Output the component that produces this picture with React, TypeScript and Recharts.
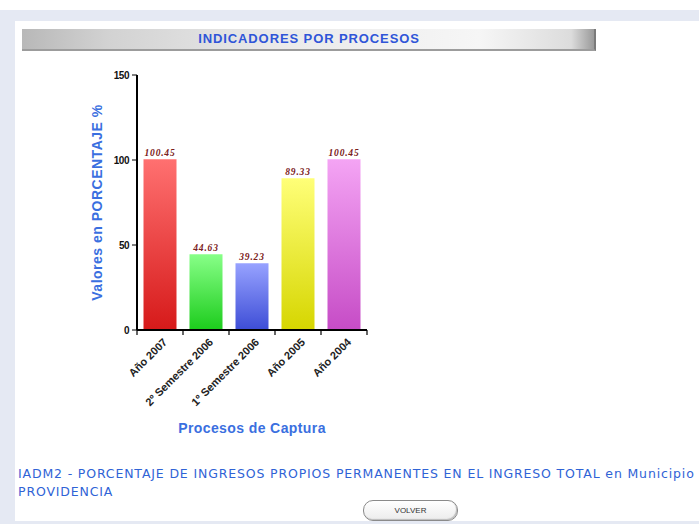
import React from "react";
import { BarChart, Bar, XAxis, YAxis, Cell, LabelList } from "recharts";

const categories = ["Año 2007", "2º Semestre 2006", "1º Semestre 2006", "Año 2005", "Año 2004"];
const values = [100.45, 44.63, 39.23, 89.33, 100.45];
const valueLabels = ["100.45", "44.63", "39.23", "89.33", "100.45"];
const yTicks = [0, 50, 100, 150];
const barTop = ["#ff7070", "#88ff88", "#97a2ff", "#ffff78", "#f4a4f4"];
const barBottom = ["#d61a1a", "#1ccc1c", "#3d4dd6", "#d6d600", "#c64cc6"];

const data = categories.map((c, i) => ({ name: c, value: values[i], label: valueLabels[i] }));

const blue = "#3a6fe0";
const TICK_SIZE = 6;
const TICK_MARGIN = 2;

const XTick = (props: any) => {
  const { x, y, payload, width, visibleTicksCount, index } = props;
  const count = visibleTicksCount || categories.length;
  const half = width / count / 2;
  const axisY = y - TICK_SIZE - TICK_MARGIN;
  const isLast = index === count - 1;
  return (
    <g>
      <line x1={x - half} x2={x - half} y1={axisY} y2={axisY + 5} stroke="#000000" strokeWidth={1.2} />
      {isLast && <line x1={x + half} x2={x + half} y1={axisY} y2={axisY + 5} stroke="#000000" strokeWidth={1.2} />}
      <g transform={`translate(${x + 5},${y + 2})`}>
        <text
          transform="rotate(-45)"
          textAnchor="end"
          dominantBaseline="central"
          fontFamily="Arial, 'Liberation Sans', sans-serif"
          fontWeight="bold"
          fontSize={11}
          fill="#222"
        >
          {payload.value}
        </text>
      </g>
    </g>
  );
};

const YTick = (props: any) => {
  const { x, y, payload } = props;
  return (
    <text
      x={x - 1}
      y={y}
      textAnchor="end"
      dominantBaseline="central"
      fontFamily="Arial, 'Liberation Sans', sans-serif"
      fontWeight="bold"
      fontSize={10}
      letterSpacing={-0.5}
      fill="#111"
    >
      {payload.value}
    </text>
  );
};

export default function App() {
  return (
    <div style={{ position: "absolute", left: 0, top: 0, width: 699, height: 524, background: "#ffffff", overflow: "hidden" }}>
      {/* outer frame */}
      <div style={{ position: "absolute", left: 0, top: 10, width: 699, height: 514, background: "#e5e9f3" }} />
      <div style={{ position: "absolute", left: 15, top: 21, width: 684, height: 500, background: "#ffffff" }} />
      {/* title bar */}
      <div
        style={{
          position: "absolute",
          left: 22,
          top: 29,
          width: 572,
          height: 20,
          background: "linear-gradient(to right, #b8b8b8 0%, #d2d2d2 15%, #eaeaea 45%, #f6f6f6 80%, #dcdcdc 96%, #9a9a9a 100%)",
          borderBottom: "2px solid #9c9c9c",
          borderRight: "2px solid #7a7a7a",
        }}
      />
      <div
        style={{
          position: "absolute",
          left: 22,
          top: 29,
          width: 574,
          height: 20,
          lineHeight: "20px",
          textAlign: "center",
          fontFamily: "Arial, 'Liberation Sans', sans-serif",
          fontWeight: "bold",
          fontSize: 13,
          color: "#2f55d8",
          letterSpacing: 0.9,
        }}
      >
        INDICADORES POR PROCESOS
      </div>

      {/* chart */}
      <div style={{ position: "absolute", left: 0, top: 60 }}>
        <BarChart width={400} height={390} data={data} margin={{ top: 15, right: 33, left: 0, bottom: 0 }} barCategoryGap={6.5}>
          <defs>
            {barTop.map((c, i) => (
              <linearGradient key={i} id={`g${i}`} x1="0" y1="0" x2="0" y2="1">
                <stop offset="0%" stopColor={c} />
                <stop offset="100%" stopColor={barBottom[i]} />
              </linearGradient>
            ))}
          </defs>
          <XAxis
            dataKey="name"
            height={120}
            tick={<XTick />}
            tickLine={false}
            tickSize={TICK_SIZE}
            tickMargin={TICK_MARGIN}
            axisLine={{ stroke: "#000", strokeWidth: 2 }}
            interval={0}
            label={{
              content: (p: any) => (
                <text
                  x={p.viewBox.x + p.viewBox.width / 2}
                  y={p.viewBox.y + 103}
                  textAnchor="middle"
                  fontFamily="Arial, 'Liberation Sans', sans-serif"
                  fontWeight="bold"
                  fontSize={14}
                  letterSpacing={0.4}
                  fill={blue}
                >
                  Procesos de Captura
                </text>
              ),
            }}
          />
          <YAxis
            width={137}
            domain={[0, 150]}
            ticks={yTicks}
            tick={<YTick />}
            tickSize={5}
            tickLine={{ stroke: "#000" }}
            axisLine={{ stroke: "#000", strokeWidth: 2 }}
            label={{
              content: (p: any) => {
                const cx = 97;
                const cy = p.viewBox.y + p.viewBox.height / 2;
                return (
                  <text
                    x={cx}
                    y={cy}
                    transform={`rotate(-90, ${cx}, ${cy})`}
                    textAnchor="middle"
                    dominantBaseline="central"
                    fontFamily="Arial, 'Liberation Sans', sans-serif"
                    fontWeight="bold"
                    fontSize={14}
                    letterSpacing={0.5}
                    fill={blue}
                  >
                    Valores en PORCENTAJE  %
                  </text>
                );
              },
            }}
          />
          <Bar dataKey="value" isAnimationActive={false} stroke="none">
            {data.map((d, i) => (
              <Cell key={i} fill={`url(#g${i})`} />
            ))}
            <LabelList
              dataKey="label"
              position="top"
              offset={3}
              fontFamily="'Liberation Serif', 'DejaVu Serif', serif"
              fontStyle="italic"
              fontWeight="bold"
              fontSize={9.5}
              letterSpacing={0.8}
              fill="#7a2020"
            />
          </Bar>
        </BarChart>
      </div>

      {/* footer text */}
      <div
        style={{
          position: "absolute",
          left: 18,
          top: 465,
          width: 690,
          fontFamily: "Tahoma, 'DejaVu Sans', sans-serif",
          fontSize: 12.5,
          letterSpacing: 0.85,
          lineHeight: "18px",
          color: "#2f63d6",
          whiteSpace: "nowrap",
        }}
      >
        <div>IADM2 - PORCENTAJE DE INGRESOS PROPIOS PERMANENTES EN EL INGRESO TOTAL en Municipio</div>
        <div>PROVIDENCIA</div>
      </div>

      {/* button */}
      <div
        style={{
          position: "absolute",
          left: 363,
          top: 500,
          width: 93,
          height: 19,
          border: "1px solid #8a8a8a",
          borderRadius: 10,
          background: "linear-gradient(to bottom, #ffffff, #ececec)",
          textAlign: "center",
          lineHeight: "19px",
          fontFamily: "Arial, 'Liberation Sans', sans-serif",
          fontSize: 8,
          color: "#333",
          boxShadow: "inset -1px -1px 1px #bbb",
        }}
      >
        VOLVER
      </div>
    </div>
  );
}
